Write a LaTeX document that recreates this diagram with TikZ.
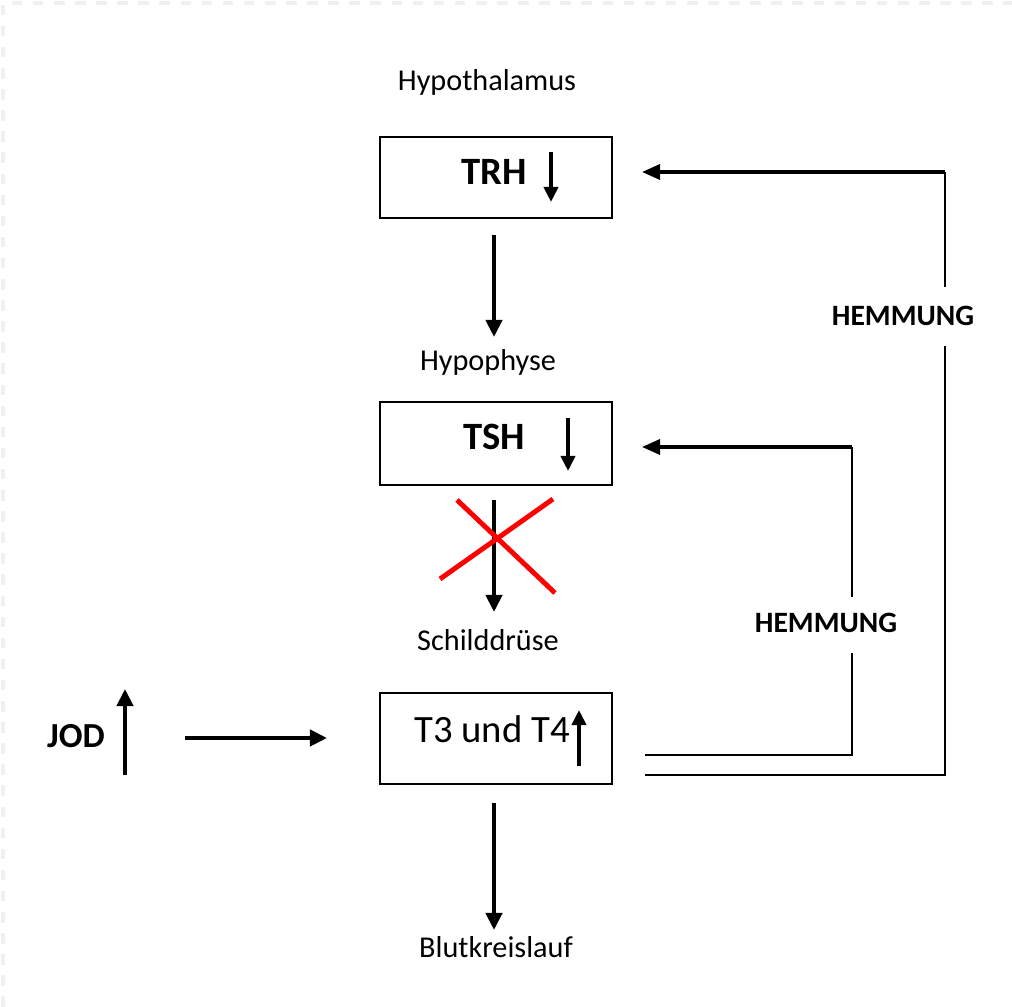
\documentclass[tikz,border=0pt]{standalone}
\usepackage{fontspec}
\setmainfont{Carlito}
\usetikzlibrary{arrows.meta}

\begin{document}
\begin{tikzpicture}[x=0.01cm,y=-0.01cm,
  box/.style={draw, line width=0.6pt, minimum width=2.32cm, inner sep=0pt},
  lbl/.style={font=\fontsize{8.6}{10}\selectfont, inner sep=0pt},
  big/.style={font=\fontsize{11}{13}\selectfont, inner sep=0pt},
  hem/.style={font=\fontsize{8.4}{10}\selectfont\bfseries, inner sep=0pt},
  arr/.style={line width=1.15pt, -{Triangle[width=0.16cm,length=0.17cm]}},
  sarr/.style={line width=1.15pt, -{Triangle[width=0.14cm,length=0.15cm]}},
  fb/.style={line width=0.6pt},
  fbarr/.style={line width=0.95pt, -{Triangle[width=0.15cm,length=0.18cm]}}]
\useasboundingbox (0,0) rectangle (1012,1007);
\draw[gray!12, dashed, line width=0.04cm] (3,1007) -- (3,3) -- (1012,3);
% Hypothalamus
\node[lbl](hyth) at (487,82){Hypothalamus};
\node[box, minimum height=0.81cm](trh) at (496,177.5){};
\node[big](trhT) at (494,172){\textbf{TRH}};
\coordinate (trhA) at (551,152);
\coordinate (trhB) at (551,202);
\draw[sarr] (trhA) -- (trhB);
\coordinate (c1) at (494,235);
\coordinate (c2) at (494,337);
\draw[arr] (c1) -- (c2);
% Hypophyse
\node[lbl](hyph) at (488,362){Hypophyse};
\node[box, minimum height=0.83cm](tsh) at (496,443.5){};
\node[big](tshT) at (494,437){\textbf{TSH}};
\coordinate (tshA) at (568,418);
\coordinate (tshB) at (568,471);
\draw[sarr] (tshA) -- (tshB);
\coordinate (c3) at (494,500);
\coordinate (c4) at (494,612);
\draw[arr] (c3) -- (c4);
\coordinate (x1) at (457,500);
\coordinate (x2) at (555,593);
\coordinate (x3) at (553,499);
\coordinate (x4) at (440,579);
\draw[red, line width=1.4pt] (x1) -- (x2);
\draw[red, line width=1.4pt] (x3) -- (x4);
% Schilddruese
\node[lbl](schd) at (488,640){Schilddrüse};
\node[box, minimum height=0.91cm](t34) at (496,738.5){};
\node[big](t34T) at (492,729){T3 und T4};
\coordinate (t34A) at (579,766);
\coordinate (t34B) at (579,710);
\draw[sarr] (t34A) -- (t34B);
\node[font=\fontsize{10}{12}\selectfont\bfseries, inner sep=0pt](jod) at (76,736){JOD};
\coordinate (jodA) at (125,775);
\coordinate (jodB) at (125,689);
\draw[arr] (jodA) -- (jodB);
\coordinate (j1) at (185,738);
\coordinate (j2) at (327,738);
\draw[arr] (j1) -- (j2);
\coordinate (c5) at (494,803);
\coordinate (c6) at (494,930);
\draw[arr] (c5) -- (c6);
\node[lbl](blut) at (496,947){Blutkreislauf};
% Hemmung
\node[hem](hem1) at (826,623){HEMMUNG};
\coordinate (f1) at (645,755);
\coordinate (f2) at (852,755);
\coordinate (g1) at (852,653);
\coordinate (g2) at (852,597);
\coordinate (f3) at (852,447);
\coordinate (f4) at (642,447);
\draw[fb] (f1) -- (f2) -- (g1);
\draw[fb] (g2) -- (f3);
\draw[fbarr] (f3) -- (f4);
\node[hem](hem2) at (903,316){HEMMUNG};
\coordinate (h1) at (645,775);
\coordinate (h2) at (945,775);
\coordinate (k1) at (945,346);
\coordinate (k2) at (945,287);
\coordinate (h3) at (945,172);
\coordinate (h4) at (642,172);
\draw[fb] (h1) -- (h2) -- (k1);
\draw[fb] (k2) -- (h3);
\draw[fbarr] (h3) -- (h4);
\end{tikzpicture}
\end{document}
